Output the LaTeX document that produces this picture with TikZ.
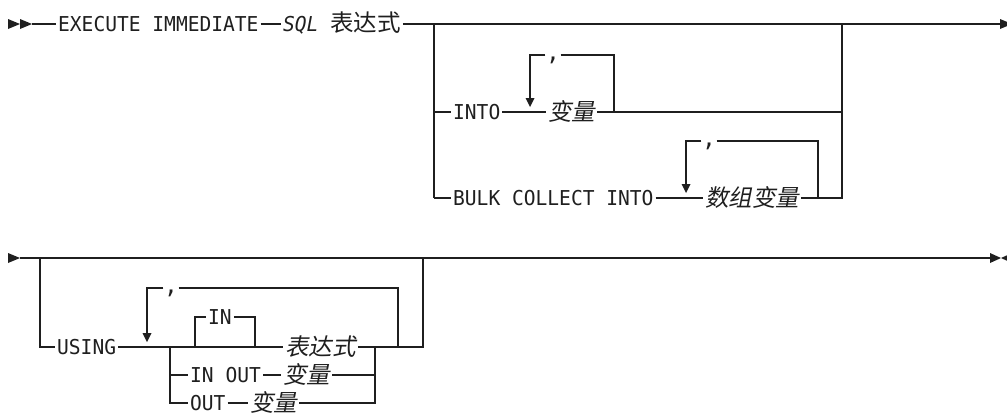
\documentclass[tikz,border=0pt]{standalone}
\usepackage{fontspec}
\newfontfamily\mono[FakeStretch=0.955]{DejaVu Sans Mono}
\newfontfamily\cjk{Noto Sans CJK SC}
\newfontfamily\cjkit[FakeSlant=0.2]{Noto Sans CJK SC}
\newcommand\dtip[1]{\fill (#1) -- ++(-4.5,-9) -- ++(9,0) -- cycle;}
\begin{document}
\begin{tikzpicture}[x=1pt,y=-1pt, color=black!88,
  every path/.style={line width=1.3pt},
  kw/.style={font=\mono\fontsize{20.5}{21}\selectfont, inner xsep=1.5pt, inner ysep=0pt,
             text height=15pt, text depth=0pt, anchor=west},
  var/.style={font=\cjkit\fontsize{23.5}{24}\selectfont, inner xsep=1.5pt, inner ysep=0pt,
             text height=17.8pt, text depth=0pt, anchor=west},
  commanode/.style={font=\mono\fontsize{24}{24}\selectfont, inner sep=0pt,
             text height=11pt, text depth=0pt}]
\useasboundingbox[fill=white] (0,0) rectangle (1007,413);

% ---------- row 1 ----------
\fill (8,19) -- (20,24) -- (8,29) -- cycle;
\fill (20,19) -- (32,24) -- (20,29) -- cycle;
\coordinate (s1) at (32,24);
\node[kw] (exec) at (56,24) {EXECUTE IMMEDIATE};
\node[kw] (sql) at (281,24) {{\itshape SQL} {\cjk\fontsize{23.5}{24}\selectfont 表达式}};
\coordinate (e1) at (1000,24);
\draw (s1) -- (exec);
\draw (exec) -- (sql);
\draw (sql) -- (e1);
\fill (1000,19) -- (1012,24) -- (1000,29) -- cycle;

\coordinate (j1l) at (434,24);
\coordinate (j1r) at (842,24);
\coordinate (a1) at (434,112);
\coordinate (b1) at (434,198);
\coordinate (a2) at (842,112);
\coordinate (b2) at (842,198);

% INTO branch
\node[kw] (into) at (451,112) {INTO};
\node[var] (v1) at (546,112) {变量};
\coordinate (l1a) at (530,55);
\coordinate (l1b) at (614,55);
\coordinate (l1c) at (614,112);
\node[commanode] (c1) at (553,55) {,};
\draw (j1l) -- (b1);
\draw (a1) -- (into);
\draw (into) -- (v1);
\draw (v1) -- (a2);
\draw (c1) -- (l1a) -- (530,98);
\draw (c1) -- (l1b) -- (l1c);
\dtip{530,107}

% BULK COLLECT INTO branch
\node[kw] (bulk) at (451,198) {BULK COLLECT INTO};
\node[var] (v2) at (703,198) {数组变量};
\coordinate (l2a) at (686,141);
\coordinate (l2b) at (818,141);
\coordinate (l2c) at (818,198);
\node[commanode] (c2) at (709,141) {,};
\draw (b1) -- (bulk);
\draw (bulk) -- (v2);
\draw (v2) -- (b2) -- (j1r);
\draw (c2) -- (l2a) -- (686,184);
\draw (c2) -- (l2b) -- (l2c);
\dtip{686,193}

% ---------- row 2 ----------
\fill (8,253) -- (20,258) -- (8,263) -- cycle;
\coordinate (s2) at (20,258);
\coordinate (e2) at (990,258);
\draw (s2) -- (e2);
\fill (990,253) -- (1001,258) -- (990,263) -- cycle;
\fill (1012,253) -- (1001,258) -- (1012,263) -- cycle;

\coordinate (j2l) at (40,258);
\coordinate (j2r) at (423,258);
\coordinate (u0) at (40,347);
\coordinate (u9) at (423,347);
\node[kw] (using) at (55,347) {USING};

% repeat loop
\coordinate (l3a) at (147,288);
\coordinate (l3b) at (398,288);
\coordinate (l3c) at (398,347);
\node[commanode] (c3) at (171,288) {,};
\draw (c3) -- (l3a) -- (147,333);
\dtip{147,342}
\draw (c3) -- (l3b) -- (l3c);

% choice
\coordinate (ch1) at (170,347);
\coordinate (ch2) at (170,375);
\coordinate (ch3) at (170,403);
\coordinate (cr1) at (375,347);
\coordinate (cr2) at (375,375);
\coordinate (cr3) at (375,403);
\coordinate (o1) at (195,347);
\coordinate (o2) at (255,347);
\node[kw] (in) at (206,317) {IN};
\node[var] (expr) at (283,347) {表达式};
\node[kw] (inout) at (188,375) {IN OUT};
\node[var] (v3) at (281,375) {变量};
\node[kw] (out) at (188,403) {OUT};
\node[var] (v4) at (248,403) {变量};

\draw (j2l) -- (u0) -- (using);
\draw (using) -- (expr);
\draw (o1) -- (195,317) -- (in);
\draw (in) -- (255,317) -- (o2);
\draw (ch1) -- (ch3) -- (out);
\draw (ch2) -- (inout);
\draw (inout) -- (v3);
\draw (v3) -- (cr2);
\draw (out) -- (v4);
\draw (v4) -- (cr3) -- (cr1);
\draw (expr) -- (u9) -- (j2r);
\end{tikzpicture}
\end{document}
